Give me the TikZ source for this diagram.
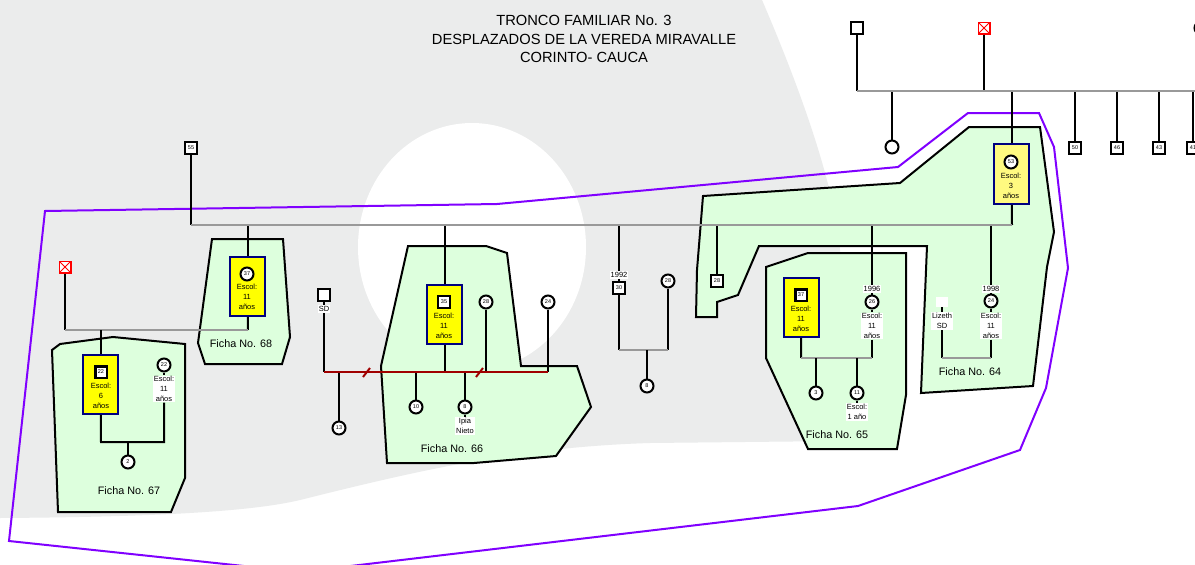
\documentclass[tikz,border=0pt]{standalone}
\usepackage{fontspec}
\setmainfont{Liberation Sans}
\definecolor{fondo}{RGB}{235,236,236}
\definecolor{verde}{RGB}{221,255,221}
\definecolor{amarillo}{RGB}{255,255,0}
\definecolor{amarilloclaro}{RGB}{255,250,128}
\definecolor{azul}{RGB}{0,0,128}
\definecolor{morado}{RGB}{128,0,255}
\definecolor{rojo}{RGB}{160,0,0}
\definecolor{gris}{RGB}{153,153,153}

\begin{document}
\begin{tikzpicture}[
      x = 1pt, y = -1pt,
      line join = miter]

      \tikzstyle{male}=[
      rectangle,
      draw = black,
      line width = 2,
      fill = white,
      minimum size = 11.5,
      inner sep = 0,
      font = \fontsize{5.5}{6}\selectfont]
      \tikzstyle{female}=[male, circle, minimum size = 13]
      \tikzstyle{dead}=[male, draw = red, line width = 1.5,
      path picture = {\draw[red, line width = 0.8]
        (path picture bounding box.south west) -- (path picture bounding box.north east)
        (path picture bounding box.north west) -- (path picture bounding box.south east);}]
      \tikzstyle{escol}=[
      rectangle,
      draw = azul,
      line width = 1.8,
      fill = amarillo,
      minimum width = 35,
      minimum height = 59,
      inner sep = 0]
      \tikzstyle{txt}=[align = center, inner sep = 0, font = \fontsize{7.5}{9.7}\selectfont]
      \tikzstyle{note}=[txt, fill = white, inner sep = 1]
      \tikzstyle{ficha}=[draw = black, line width = 2, fill = verde]
      \tikzstyle{fichatxt}=[font = \fontsize{10.8}{12}\selectfont]
      \tikzstyle{line}=[draw = black, line width = 2]
      \tikzstyle{sib}=[draw = gris, line width = 2.5]
      \tikzstyle{pareja}=[draw = rojo, line width = 2]

      % fondo
      \useasboundingbox (0,0) rectangle (1195,565);
      \fill[white] (0,0) rectangle (1195,565);
      \fill[fondo] (0,0) -- (762,0) .. controls (805,100) and (835,190) .. (840,250)
        -- (840,441) -- (650,443) .. controls (520,447) and (420,470) .. (300,500)
        .. controls (250,512) and (150,517) .. (0,518) -- cycle;
      \fill[white] (472,247) ellipse [x radius = 114, y radius = 124];

      % contorno del tronco
      \draw[morado, line width = 2] (45,211) -- (497,204) -- (898,167) -- (968,113)
        -- (1039,113) -- (1054,147) -- (1068,268) -- (1046,388) -- (1020,450)
        -- (858,506) -- (300,572) -- (9,541) -- cycle;

      % fichas
      \draw[ficha] (52,350) -- (60,344) -- (113,337) -- (185,344) -- (185,478)
        -- (171,512) -- (58,512) -- cycle;
      \draw[ficha] (212,239) -- (283,239) -- (290,337) -- (282,364) -- (205,364)
        -- (198,343) -- cycle;
      \draw[ficha] (408,246) -- (486,246) -- (507,253) -- (521,366) -- (577,366)
        -- (591,407) -- (556,456) -- (474,463) -- (387,463) -- (381,366) -- cycle;
      \draw[ficha] (703,196) -- (900,183) -- (969,127) -- (1040,127) -- (1054,232)
        -- (1047,267) -- (1033,386) -- (921,393) -- (927,246) -- (759,246)
        -- (738,295) -- (717,302) -- (717,317) -- (696,317) -- (697,270) -- cycle;
      \draw[ficha] (766,267) -- (808,253) -- (906,253) -- (906,395) -- (897,449)
        -- (808,449) -- (766,358) -- cycle;

      \node[fichatxt] (f67) at (129,491) {Ficha No. 67};
      \node[fichatxt] (f68) at (241,344) {Ficha No. 68};
      \node[fichatxt] (f66) at (452,449) {Ficha No. 66};
      \node[fichatxt] (f65) at (837,435) {Ficha No. 65};
      \node[fichatxt] (f64) at (970,372) {Ficha No. 64};

      % titulo
      \node[font = \fontsize{14.7}{18.5}\selectfont, align = center] (titulo) at (584,39)
        {TRONCO FAMILIAR No. 3\\DESPLAZADOS DE LA VEREDA MIRAVALLE\\CORINTO- CAUCA};

      % tronco superior
      \node[male] (p0) at (857,28) {};
      \node[dead] (d0) at (984,28) {};
      \node[female] (m0) at (1201,28) {};
      \node[female] (c0) at (892,147) {};
      \node[escol, fill = amarilloclaro, minimum height = 60] (b53) at (1011.5,174) {};
      \node[female] (c53) at (1011,162) {53};
      \node[txt] (t53) at (1011,186) {Escol:\\3\\años};
      \node[male] (s50) at (1075,148) {50};
      \node[male] (s46) at (1117,148) {46};
      \node[male] (s43) at (1159,148) {43};
      \node[male] (s41) at (1193,148) {41};

      \coordinate (t1) at (857,91);
      \coordinate (t2) at (1200,91);
      \draw[line] (p0) -- (t1);
      \draw[line] (d0) -- (d0 |- t1);
      \foreach \n in {c0, b53, s50, s46, s43, s41}
        \draw[line] (\n) -- (\n |- t1);
      \draw[sib] (t1) -- (t2);

      % pareja principal
      \node[male] (s55) at (191,148) {55};
      \coordinate (k1) at (191,225);
      \coordinate (k2) at (1012,225);

      % ficha 68
      \node[escol] (b68) at (247.5,286.5) {};
      \node[female] (c37) at (247,274) {37};
      \node[txt] (t68) at (247,297) {Escol:\\11\\años};

      % ficha 67
      \node[dead] (d67) at (65,267) {};
      \coordinate (k3) at (65,330);
      \coordinate (k4) at (248,330);
      \node[escol] (b22) at (100.5,384.5) {};
      \node[male, line width = 2.5] (s22) at (101,372) {22};
      \node[txt] (t22) at (101,396) {Escol:\\6\\años};
      \node[female] (c22) at (164,365) {22};
      \node[note] (n22) at (164,389) {Escol:\\11\\años};
      \node[female] (c2) at (128,462) {2};
      \coordinate (k5) at (101,442);
      \coordinate (k6) at (164,442);

      \draw[line] (d67) -- (k3);
      \draw[line] (b68) -- (k4);
      \draw[sib] (k3) -- (k4);
      \draw[line] (b22) -- (b22 |- k3);
      \draw[line] (b22) -- (k5) -- (k6) -- (n22);
      \draw[line] (c22) -- (n22);
      \draw[line] (c2) -- (c2 |- k5);

      % ficha 66
      \node[escol] (b35) at (444.5,314.5) {};
      \node[male, minimum size = 12.5] (s35) at (444,302) {35};
      \node[txt] (t35) at (444,326) {Escol:\\11\\años};
      \node[male, minimum size = 12] (sSD) at (324,295) {};
      \node[note] (nSD) at (324,309) {SD};
      \node[female] (c28) at (486,302) {28};
      \node[female] (c24) at (548,302) {24};
      \node[female] (c13) at (339,428) {13};
      \node[female] (c10) at (416,407) {10};
      \node[female] (c8) at (465,407) {8};
      \node[note] (nIpia) at (465,426) {Ipia\\Nieto};
      \coordinate (k7) at (324,372);
      \coordinate (k8) at (548,372);

      \draw[line] (sSD) -- (nSD);
      \draw[line] (nSD) -- (k7);
      \draw[line] (b35) -- (b35 |- k7);
      \draw[line] (c28) -- (c28 |- k7);
      \draw[line] (c24) -- (k8);
      \foreach \n in {c13, c10, c8}
        \draw[line] (\n) -- (\n |- k7);
      \draw[line] (c8) -- (nIpia);
      \draw[pareja] (k7) -- (k8);
      \draw[pareja] (363,377) -- (370,368);
      \draw[pareja] (476,377) -- (483,368);

      % pareja 1992
      \node[note] (n1992) at (619,275) {1992};
      \node[male] (s30) at (619,288) {30};
      \node[female] (c28b) at (668,281) {28};
      \node[female] (c8b) at (647,386) {8};
      \coordinate (k9) at (619,350);
      \coordinate (k10) at (668,350);

      \draw[line] (n1992) -- (s30);
      \draw[line] (s30) -- (k9);
      \draw[line] (c28b) -- (k10);
      \draw[sib] (k9) -- (k10);
      \draw[line] (c8b) -- (c8b |- k9);

      % ficha 64 y 65
      \node[male] (s28) at (717,281) {28};
      \node[escol] (b37) at (801.5,307.5) {};
      \node[male, line width = 2.5] (s37) at (801,295) {37};
      \node[txt] (t37) at (801,319) {Escol:\\11\\años};
      \node[note] (n1996) at (872,289) {1996};
      \node[female] (c26) at (872,302) {26};
      \node[note] (n26) at (872,326) {Escol:\\11\\años};
      \node[female] (c3) at (816,393) {3};
      \node[female] (c11) at (857,393) {11};
      \node[note] (n11) at (857,412) {Escol:\\1 año};
      \coordinate (k11) at (801,358);
      \coordinate (k12) at (872,358);

      \draw[line] (n1996) -- (c26);
      \draw[line] (c26) -- (n26);
      \draw[line] (n26) -- (k12);
      \draw[line] (b37) -- (k11);
      \draw[sib] (k11) -- (k12);
      \draw[line] (c3) -- (c3 |- k11);
      \draw[line] (c11) -- (c11 |- k11);
      \draw[line] (c11) -- (n11);

      \node[fill = white, minimum width = 12, minimum height = 10, inner sep = 0] (lz) at (942,302) {};
      \node[note] (nLz) at (942,321) {Lizeth\\SD};
      \node[note] (n1998) at (991,289) {1998};
      \node[female] (c24b) at (991,301) {24};
      \node[note] (n24) at (991,326) {Escol:\\11\\años};
      \coordinate (k13) at (942,358);
      \coordinate (k14) at (991,358);

      \draw[line] (lz) -- (nLz);
      \draw[line] (nLz) -- (k13);
      \draw[line] (n1998) -- (c24b);
      \draw[line] (c24b) -- (n24);
      \draw[line] (n24) -- (k14);
      \draw[sib] (k13) -- (k14);

      % hijos de la pareja principal
      \draw[line] (s55) -- (k1);
      \draw[line] (b53) -- (k2);
      \foreach \n in {b68, b35, n1992, s28, n1996, n1998}
        \draw[line] (\n) -- (\n |- k1);
      \draw[sib] (k1) -- (k2);
\end{tikzpicture}
\end{document}
